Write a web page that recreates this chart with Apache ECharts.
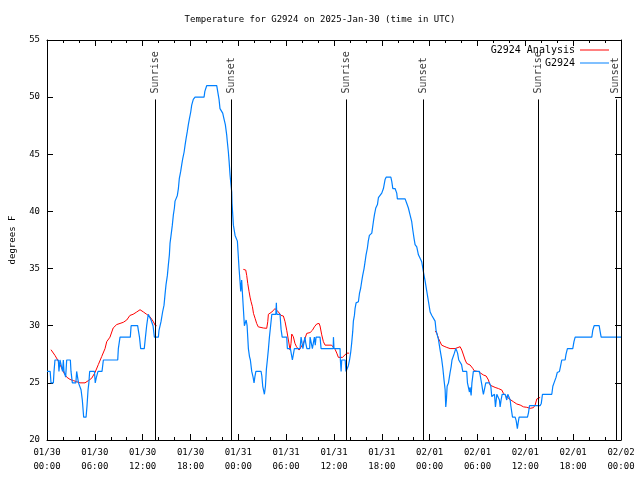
<!DOCTYPE html>
<html><head><meta charset="utf-8">
<script src="https://cdn.jsdelivr.net/npm/echarts@6/dist/echarts.min.js"></script>
<style>html,body{margin:0;padding:0;background:#fff}#c{width:640px;height:480px}</style>
</head><body><div id="c"></div>
<script>
const titleText = 'Temperature for G2924 on 2025-Jan-30 (time in UTC)';
const xTickLabels = ['01/30\n00:00','01/30\n06:00','01/30\n12:00','01/30\n18:00','01/31\n00:00','01/31\n06:00','01/31\n12:00','01/31\n18:00','02/01\n00:00','02/01\n06:00','02/01\n12:00','02/01\n18:00','02/02\n00:00'];
const sunNames = ['Sunrise','Sunset','Sunrise','Sunset','Sunrise','Sunset'];
const sunHours = [13.58, 23.17, 37.55, 47.2, 61.65, 71.35];

// hours since 2025-01-30 00:00 UTC, temperature degF ('-' = gap)
const redHours = [0.5,1.0,1.34,1.76,2.18,2.47,2.89,3.30,3.72,4.14,4.77,5.19,5.6,6.02,6.44,6.86,7.28,7.49,7.9,8.3,8.74,9.16,9.58,10.0,10.4,10.8,11.25,11.67,12.1,12.5,12.9,13.3,13.6,13.75,
  19,
  24.63,24.93,25.05,25.18,25.35,25.47,25.6,25.77,25.9,26.1,26.3,26.5,26.72,27.14,27.56,27.69,27.77,28.2,28.6,28.82,29.03,29.36,29.65,29.86,30.07,30.28,30.49,30.61,30.7,30.9,31.1,31.3,31.62,31.87,32.16,32.37,32.58,33.0,33.29,33.54,33.83,34.13,34.25,34.46,34.67,34.88,35.7,35.93,36.14,36.35,36.55,36.76,37.06,37.3,37.6,37.9,
  43,
  48.7,48.9,49.1,49.3,49.5,49.81,50.15,50.56,51.19,51.3,51.82,52.03,52.24,52.45,52.65,53.07,53.4,53.58,54.12,54.33,54.74,55.08,55.37,55.58,55.79,56.21,56.63,57.05,57.25,57.46,57.67,58.0,58.5,58.93,59.35,59.77,60.18,60.6,61.02,61.23,61.44,61.65,61.86];
const redTemps = [27.9,27.4,27.0,26.4,25.8,25.5,25.3,25.2,25.1,25.0,25.0,25.2,25.4,25.9,26.6,27.3,28.0,28.6,29.0,29.8,30.1,30.2,30.3,30.5,30.9,31.0,31.2,31.4,31.2,31.0,30.8,30.4,30.0,30.0,
  '-',
  34.93,34.87,34.4,33.7,32.97,32.5,32.1,31.66,31.08,30.65,30.2,29.9,29.8,29.8,29.77,30.35,31.0,31.2,31.5,31.4,31.2,30.9,30.85,30.35,29.6,28.75,27.87,28.46,29.27,29.04,28.46,28.16,27.87,28.0,28.46,28.9,29.33,29.4,29.6,29.9,30.15,30.2,29.97,29.2,28.6,28.3,28.3,28.2,27.93,27.6,27.23,27.06,27.23,27.4,27.6,27.6,
  '-',
  29.54,29.33,28.9,28.6,28.3,28.2,28.1,28.0,28.0,28.16,28.16,27.87,27.44,27.0,26.7,26.56,26.27,26.06,25.98,25.83,25.69,25.6,25.25,24.8,24.67,24.6,24.5,24.37,24.08,23.94,23.8,23.59,23.35,23.15,23.06,22.9,22.86,22.77,22.83,23.06,23.59,23.73,23.73];

const blueHours = [0,0.4,0.5,0.8,0.88,1.0,1.42,1.5,1.63,1.84,1.95,2.05,2.13,2.34,2.47,2.93,3.01,3.18,3.62,3.72,3.85,3.95,4.15,4.27,4.43,4.6,4.9,5.02,5.15,5.25,5.35,5.95,6.05,6.2,6.4,6.9,7.07,8.87,8.95,9.16,10.45,10.55,11.37,11.46,11.6,11.75,12.2,12.35,12.5,12.7,12.92,13.05,13.3,13.47,13.97,
  14.05,14.3,14.5,14.68,14.8,14.93,15.1,15.22,15.35,15.43,15.56,15.72,15.85,15.98,16.06,16.18,16.35,16.48,16.6,16.77,16.9,17.02,17.2,17.32,17.45,17.6,17.73,17.86,18.03,18.15,18.35,18.57,19.7,19.8,20.03,21.29,21.41,21.58,21.7,21.92,22.04,22.2,22.37,22.54,22.62,22.75,22.84,22.96,23.04,23.17,23.21,23.3,23.38,23.59,23.8,23.88,23.96,24.09,24.21,24.3,24.42,24.5,24.63,24.76,
  24.93,24.98,25.1,25.18,25.26,25.4,25.51,25.68,25.85,25.97,26.07,26.2,26.85,26.95,27.06,27.27,27.4,27.52,27.64,27.78,27.9,28.05,28.2,28.7,28.77,28.82,29.23,29.36,29.5,30.07,30.15,30.53,30.78,30.9,31.03,31.74,31.87,32.0,32.1,32.3,32.35,32.45,32.6,32.95,33.0,33.2,33.29,33.45,33.54,33.65,33.75,34.25,34.38,35.9,35.93,36.0,36.76,36.8,36.89,36.97,37.4,37.5,37.7,37.8,37.95,
  38.1,38.22,38.35,38.43,38.56,38.64,38.77,39.06,39.19,39.35,39.48,39.6,39.77,39.9,40.02,40.19,40.3,40.44,40.61,40.74,40.82,40.94,41.07,41.24,41.45,41.57,41.78,41.99,42.2,42.41,42.54,43.13,43.25,43.38,43.66,43.87,43.95,44.92,45.13,45.33,45.54,45.75,45.88,46.05,46.17,46.38,46.59,46.8,47.0,47.22,47.43,47.64,47.85,48.06,48.27,48.48,48.68,
  48.8,49.1,49.3,49.5,49.65,49.81,49.94,50.02,50.1,50.19,50.36,50.56,50.69,50.8,50.98,51.1,51.27,51.4,51.5,51.65,51.9,52.0,52.15,52.65,52.74,52.85,52.99,53.07,53.2,53.3,53.48,54.24,54.35,54.45,54.55,54.66,54.74,54.96,55.04,55.5,55.67,55.79,56.0,56.13,56.25,56.35,56.42,56.63,56.75,56.84,56.96,57.09,57.46,57.67,57.8,58.0,58.1,58.18,58.3,58.39,58.72,58.85,59.0,59.1,59.22,60.27,60.4,60.52,61.85,62.0,62.15,63.32,63.45,63.6,63.75,63.86,64.0,64.28,64.4,64.57,64.99,65.1,65.28,65.95,66.1,66.25,68.34,68.46,68.63,69.26,69.38,69.51,72];
const blueTemps = [26,26,25,25,26,27,27,26,27,27,26,27,26,25.5,27,27,26,25,25,26,26,25,25,24.4,23.5,22,22,23,24.4,25,26,26,25,25.5,26,26,27,27,28,29,29,30,30,29.6,29,28,28,29,30,31,31,30.5,30,29,29,
  29.6,30.35,31.2,31.8,32.7,33.6,34.4,35.3,36.2,37.2,37.9,38.8,39.7,40.3,40.9,41.1,41.4,42,42.9,43.5,44.1,44.6,45.2,45.8,46.4,47,47.6,48.1,48.7,49.3,49.8,50,50,50.5,51,51,50.5,49.8,49,49,48.6,48.1,47.6,46.7,46.1,45.2,44.4,43.2,42.6,41.7,40.7,39.7,38.8,37.9,37.9,37.4,36.5,35,33.9,33,34,33,31.5,30,
  30,30.5,30,29,28,27.3,27,26,25.5,25,25.5,26,26,25.6,24.7,24,24.7,26.2,27,28,29,30,31,31,32,31,31,29.7,29,29,28,28,27,27,28,28,29,29,28,28,29,28.5,28,28,29,29,28,28,29,28.3,29,29,28,28,29,28,28,27,26,27,27,26,26,26.5,27,
  27.7,28.5,29.5,30.4,30.9,31.5,32,32.1,32.8,33.3,33.9,34.4,35,35.6,36.2,36.8,37.4,37.9,37.9,38.1,38.5,39.1,39.7,40.3,40.6,41.2,41.3,41.6,42,42.8,43,43,42.6,42,42,41.6,41.1,41.1,40.7,40.3,39.7,39.1,38.4,37.6,37.1,36.9,36.2,35.9,35.6,34.7,33.9,33,32.1,31.2,30.9,30.8,30.4,
  29.6,28.8,27.9,27.1,26.3,25.2,24.4,22.9,23.5,24.7,25,25.9,26.4,27,27,27.6,28,27.8,27.6,27,27,26.6,26,26,25,25,24.2,24.6,23.9,25,26,26,25.6,25.5,24.8,24.3,24,24,25,25,24.7,23.8,23.8,24,22.9,23.5,24,24,23.5,22.9,23.5,24,24,23.5,24,24,23.5,23,23,22,22,21.7,21,21.5,22,22,22.4,23,23,23.2,24,24,24.7,25,25,25.5,25.9,26,26.4,27,27,27.5,28,28,28.6,29,29,29.6,30,30,29.5,29,29];

const FONT = 'DejaVu Sans Mono';
const SUN_TOP = 49.8;
const pair = (xs, ys) => xs.map((x, i) => [x, ys[i]]);

const chart = echarts.init(document.getElementById('c'), null, {renderer: 'canvas'});
const axisCommon = {
  axisLine: {show: true, onZero: false, lineStyle: {color: '#000', width: 1}},
  axisTick: {show: true, inside: true, length: 6, lineStyle: {color: '#000'}},
  splitLine: {show: false}
};
const xCommon = Object.assign({}, axisCommon, {
  type: 'value', min: 0, max: 72, interval: 6,
  minorTick: {show: true, splitNumber: 3, length: 3, lineStyle: {color: '#000'}},
  minorSplitLine: {show: false}
});
const yCommon = Object.assign({}, axisCommon, {type: 'value', min: 20, max: 55, interval: 5});
const legendCommon = {
  orient: 'horizontal', align: 'right', right: 31, padding: 0,
  itemWidth: 29, itemHeight: 1, icon: 'rect',
  textStyle: {fontFamily: FONT, fontSize: 10, color: '#000'}
};
chart.setOption({
  animation: false,
  backgroundColor: '#fff',
  title: {text: titleText, left: 'center', top: 15, padding: 0,
    textStyle: {fontFamily: FONT, fontSize: 9, fontWeight: 'normal', color: '#000'}},
  legend: [
    Object.assign({}, legendCommon, {data: ['G2924 Analysis'], top: 45}),
    Object.assign({}, legendCommon, {data: ['G2924'], top: 58})
  ],
  grid: {left: 47, right: 19, top: 40, bottom: 40, containLabel: false, outerBoundsMode: 'none'},
  xAxis: [
    Object.assign({}, xCommon, {position: 'bottom',
      axisLabel: {formatter: v => xTickLabels[Math.round(v / 6)], color: '#000', fontFamily: FONT, fontSize: 9, lineHeight: 14, margin: 6}}),
    Object.assign({}, xCommon, {position: 'top', axisLabel: {show: false}})
  ],
  yAxis: [
    Object.assign({}, yCommon, {position: 'left', name: 'degrees F', nameLocation: 'middle', nameGap: 30, nameRotate: 90,
      nameTextStyle: {fontFamily: FONT, fontSize: 9, color: '#000'},
      axisLabel: {color: '#000', fontFamily: FONT, fontSize: 9, margin: 7}}),
    Object.assign({}, yCommon, {position: 'right', axisLabel: {show: false}})
  ],
  series: [
    {name: 'G2924 Analysis', type: 'line', data: pair(redHours, redTemps), symbol: 'none', showSymbol: false,
      connectNulls: false, lineStyle: {color: '#ff0000', width: 1}, itemStyle: {color: '#ff0000'}, z: 3},
    {name: 'G2924', type: 'line', data: pair(blueHours, blueTemps), symbol: 'none', showSymbol: false,
      lineStyle: {color: '#0080ff', width: 1.2}, itemStyle: {color: '#0080ff'}, z: 4},
    {name: 'sun', type: 'scatter', data: sunHours.map(h => [h, SUN_TOP]), symbolSize: 0, silent: true, z: 5,
      label: {show: true, position: 'top', distance: 6, rotate: 90, align: 'left', verticalAlign: 'middle',
        formatter: p => sunNames[p.dataIndex], fontFamily: FONT, fontSize: 10, color: '#000'},
      markLine: {silent: true, symbol: 'none', animation: false, label: {show: false},
        lineStyle: {color: '#000', width: 1, type: 'solid'},
        data: sunHours.map(h => [{coord: [h, 20]}, {coord: [h, SUN_TOP]}])}}
  ]
});
</script></body></html>
